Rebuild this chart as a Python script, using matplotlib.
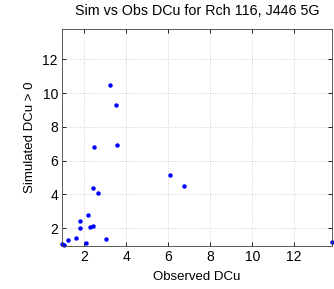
import numpy as np
import matplotlib
matplotlib.use('Agg')
import matplotlib.pyplot as plt

plt.rcParams['font.family'] = ['Liberation Sans', 'DejaVu Sans']

# observed vs simulated DCu values
obs = [3.24, 3.50, 3.54, 2.46, 6.07, 6.75, 2.41, 2.65, 2.16, 1.80, 1.80,
       2.27, 2.43, 1.60, 1.21, 3.03, 2.08, 0.94, 1.02, 13.80]
sim = [10.50, 9.28, 6.94, 6.78, 5.17, 4.50, 4.36, 4.10, 2.77, 2.40, 2.02,
       2.04, 2.12, 1.42, 1.32, 1.38, 1.14, 1.08, 1.02, 1.17]

fig = plt.figure(figsize=(3.34, 2.89), dpi=100)
ax = fig.add_axes([0.186, 0.149, 0.808, 0.751])

ax.plot(obs, sim, 'o', color='blue', markersize=3.2, markeredgewidth=0, clip_on=False)

lo = min(min(obs), min(sim))
hi = max(max(obs), max(sim))
ax.set_xlim(lo, hi)
ax.set_ylim(lo, hi)
ax.set_xticks([2, 4, 6, 8, 10, 12])
ax.set_yticks([2, 4, 6, 8, 10, 12])

ax.grid(True, linestyle=(0, (1, 2)), color='#c0c0c0', linewidth=0.6)
ax.tick_params(direction='in', length=3, labelsize=10, top=True, right=True,
               width=0.6, pad=3)
for s in ax.spines.values():
    s.set_linewidth(0.6)
    s.set_color('#404040')

ax.set_title('Sim vs Obs DCu for Rch 116, J446 5G', fontsize=10.3, pad=10)
ax.set_xlabel('Observed DCu', fontsize=9.5, labelpad=5)
ax.set_ylabel('Simulated DCu > 0', fontsize=9.5, labelpad=5)

fig.savefig('out.png', dpi=100)
